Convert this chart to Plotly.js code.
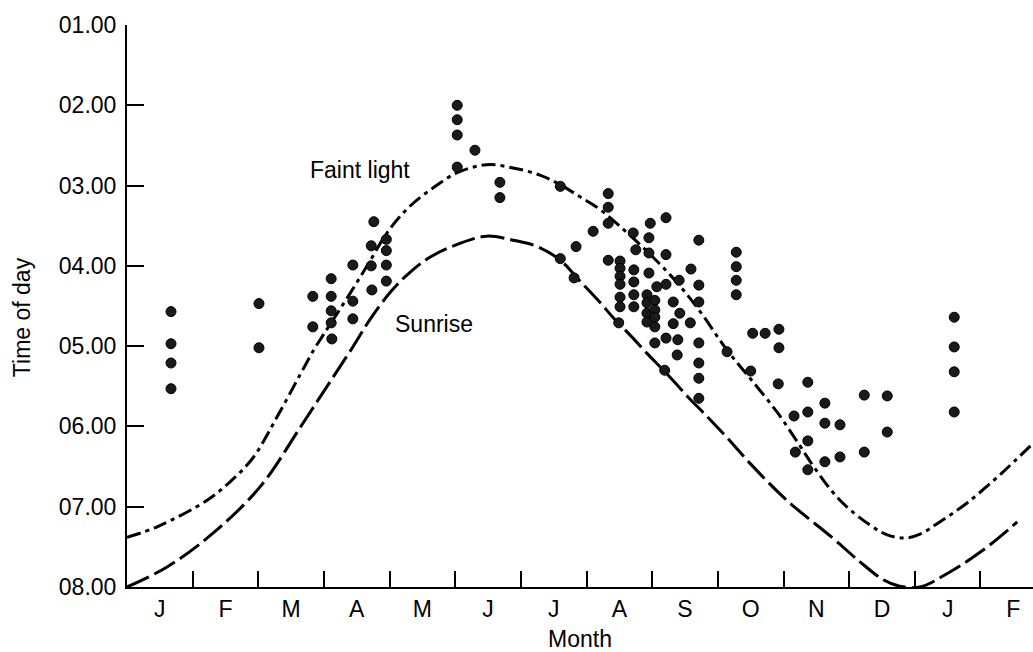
<!DOCTYPE html>
<html>
<head>
<meta charset="utf-8">
<script src="https://cdn.plot.ly/plotly-3.0.1.min.js"></script>
<style>
html,body{margin:0;padding:0;background:#fff;}
#chart{width:1033px;height:652px;}
</style>
</head>
<body>
<div id="chart"></div>
<script>
// Month axis: 0 = start of January, 1 unit = 1 month
var monthLabels = ['J','F','M','A','M','J','J','A','S','O','N','D','J','F'];
var monthCenters = [0.5,1.5,2.5,3.5,4.5,5.5,6.5,7.5,8.5,9.5,10.5,11.5,12.5,13.5];
var monthBounds = [1,2,3,4,5,6,7,8,9,10,11,12,13];
var hourVals = [1,2,3,4,5,6,7,8];
var hourLabels = ['01.00','02.00','03.00','04.00','05.00','06.00','07.00','08.00'];

// Observed times (scatter dots)
var obsMonth = [
  0.67,0.67,0.67,0.67,
  2.01,2.01,
  2.83,2.83,
  3.11,3.11,3.11,3.11,3.12,
  3.44,3.44,3.44,
  3.76,3.72,3.72,3.73,
  3.95,3.95,3.95,3.95,
  5.03,5.03,5.03,5.30,5.03,5.68,5.68,
  6.60,6.60,6.81,6.84,7.10,
  7.33,7.33,7.33,7.33,
  7.51,7.51,7.51,7.51,7.51,7.51,7.49,
  7.71,7.75,7.72,7.72,7.72,7.72,
  7.97,7.95,7.95,7.95,7.92,7.92,7.92,7.92,
  8.04,8.04,8.04,8.04,8.07,
  8.21,8.21,8.21,8.41,8.59,
  8.71,8.71,8.71,8.32,8.42,8.32,8.58,
  8.04,8.21,8.39,8.71,8.38,8.71,8.71,8.71,8.19,
  9.14,9.28,9.28,9.28,9.28,
  9.53,9.72,9.93,9.93,9.50,9.92,
  10.37,11.23,11.58,10.63,10.37,10.16,10.63,10.86,11.58,
  10.37,10.18,10.86,11.23,10.63,10.37,
  12.60,12.60,12.60,12.60
];
var obsTime = [
  4.57,4.97,5.21,5.53,
  4.47,5.02,
  4.38,4.76,
  4.16,4.38,4.56,4.71,4.91,
  3.99,4.44,4.66,
  3.45,3.75,4.00,4.30,
  3.67,3.81,3.99,4.19,
  2.00,2.18,2.37,2.56,2.77,2.96,3.15,
  3.01,3.91,4.15,3.76,3.57,
  3.10,3.27,3.47,3.93,
  3.94,4.03,4.13,4.23,4.39,4.51,4.71,
  3.59,3.80,4.05,4.20,4.36,4.51,
  3.47,3.65,3.84,4.09,4.36,4.46,4.59,4.70,
  4.43,4.55,4.64,4.76,4.26,
  3.40,3.86,4.23,4.18,4.04,
  3.68,4.24,4.45,4.45,4.59,4.72,4.71,
  4.96,4.90,4.92,4.96,5.11,5.21,5.40,5.65,5.30,
  5.07,3.83,4.01,4.18,4.36,
  4.84,4.84,4.79,5.02,5.31,5.47,
  5.45,5.61,5.62,5.71,5.82,5.87,5.96,5.98,6.07,
  6.18,6.32,6.38,6.32,6.44,6.54,
  4.64,5.01,5.32,5.82
];

// Faint light curve (dash-dot)
var faintMonth = [0,0.46,1.22,1.57,1.92,2.28,2.64,2.85,2.99,3.40,3.70,3.96,4.28,4.66,5.03,5.48,5.88,6.29,6.60,6.90,7.21,7.62,8.01,8.38,8.73,9.14,9.49,9.90,10.25,10.45,10.86,11.32,11.58,11.85,12.08,12.38,12.80,13.30,13.80];
var faintTime  = [7.38,7.25,6.92,6.69,6.39,5.89,5.35,5.04,4.86,4.34,3.94,3.59,3.28,3.03,2.84,2.74,2.78,2.87,2.99,3.14,3.30,3.59,3.89,4.21,4.57,5.05,5.40,5.82,6.24,6.49,6.92,7.23,7.35,7.39,7.34,7.19,6.95,6.60,6.21];

// Sunrise curve (dashed)
var sunMonth = [0,0.61,1.31,2.03,2.64,3.04,3.44,3.70,4.01,4.31,4.62,5.07,5.48,5.88,6.25,6.60,6.90,7.21,7.40,7.66,7.92,8.23,8.53,8.84,9.14,9.49,10.05,10.75,11.17,11.52,11.77,12.08,12.54,13.04,13.56];
var sunTime  = [8.00,7.75,7.33,6.75,6.01,5.51,5.01,4.67,4.33,4.08,3.89,3.72,3.63,3.68,3.76,3.93,4.19,4.46,4.64,4.86,5.09,5.35,5.62,5.88,6.14,6.46,6.92,7.39,7.69,7.91,7.99,8.00,7.81,7.54,7.19];

var FONT = 'Liberation Sans, Arial, Helvetica, sans-serif';

var traces = [
  {x: faintMonth, y: faintTime, mode: 'lines', type: 'scatter',
   line: {color: '#000', width: 3, dash: '14px,5px,4px,5px', shape: 'spline', smoothing: 1}, hoverinfo: 'skip'},
  {x: sunMonth, y: sunTime, mode: 'lines', type: 'scatter',
   line: {color: '#000', width: 3, dash: '24px,6px', shape: 'spline', smoothing: 1}, hoverinfo: 'skip'},
  {x: obsMonth, y: obsTime, mode: 'markers', type: 'scatter',
   marker: {size: 10, color: '#1a1a1a', line: {color: '#000', width: 1}}}
];

var layout = {
  width: 1033, height: 652,
  margin: {l: 127, r: 0, t: 25, b: 65, pad: 0},
  paper_bgcolor: '#fff', plot_bgcolor: '#fff',
  showlegend: false,
  font: {family: FONT, size: 23, color: '#000'},
  xaxis: {
    range: [0, 13.8], fixedrange: true,
    showline: true, linecolor: '#000', linewidth: 2,
    showgrid: false, zeroline: false,
    tickmode: 'array', tickvals: monthCenters, ticktext: monthLabels,
    ticks: 'inside', ticklen: 0, tickcolor: 'rgba(0,0,0,0)',
    tickfont: {family: FONT, size: 23, color: '#000'},
    minor: {tickmode: 'array', tickvals: monthBounds, ticks: 'inside', ticklen: 16, tickwidth: 2, tickcolor: '#000', showgrid: false}
  },
  yaxis: {
    range: [8, 1], fixedrange: true,
    showline: true, linecolor: '#000', linewidth: 2,
    showgrid: false, zeroline: false,
    tickmode: 'array', tickvals: hourVals, ticktext: hourLabels,
    ticks: 'inside', ticklen: 17, tickwidth: 2, tickcolor: '#000',
    ticklabelstandoff: 4,
    tickfont: {family: FONT, size: 23, color: '#000'}
  },
  annotations: [
    {text: 'Faint light', x: 2.76, y: 2.80, xref: 'x', yref: 'y', xanchor: 'left', yanchor: 'middle', showarrow: false, font: {family: FONT, size: 23, color: '#000'}},
    {text: 'Sunrise', x: 4.05, y: 4.73, xref: 'x', yref: 'y', xanchor: 'left', yanchor: 'middle', showarrow: false, font: {family: FONT, size: 23, color: '#000'}},
    {text: 'Time of day', x: -0.116, y: 0.48, xref: 'paper', yref: 'paper', xanchor: 'center', yanchor: 'middle', textangle: -90, showarrow: false, font: {family: FONT, size: 23, color: '#000'}},
    {text: 'Month', x: 0.5, y: -0.092, xref: 'paper', yref: 'paper', xanchor: 'center', yanchor: 'middle', showarrow: false, font: {family: FONT, size: 23, color: '#000'}}
  ]
};

Plotly.newPlot('chart', traces, layout, {staticPlot: true, displayModeBar: false});
</script>
</body>
</html>
